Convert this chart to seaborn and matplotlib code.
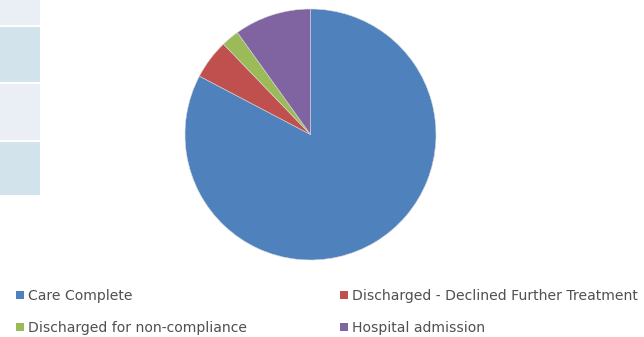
import matplotlib
matplotlib.use("Agg")
import matplotlib.pyplot as plt
import seaborn as sns
from matplotlib.patches import Rectangle, Patch

categories = ["Care Complete", "Discharged - Declined Further Treatment",
              "Discharged for non-compliance", "Hospital admission"]
values = [82.7, 5.1, 2.3, 9.9]
colors = ["#4F81BD", "#C0504D", "#9BBB59", "#8064A2"]

sns.set_theme(style="white")
plt.rcParams['font.family'] = ['DejaVu Sans']

W, H = 644, 337
fig = plt.figure(figsize=(W / 100, H / 100), dpi=100)
fig.patch.set_facecolor("white")

# partial table on the left edge
rows = [(0, 25, "#E9EFF5"), (27, 82, "#D2E3EB"), (84, 140, "#E9EFF5"), (142, 195, "#D2E3EB")]
for y0, y1, c in rows:
    fig.patches.append(Rectangle((0, 1 - y1 / H), 40 / W, (y1 - y0) / H,
                                 transform=fig.transFigure, facecolor=c,
                                 edgecolor="none", zorder=0))

cx, cy, r = 310.5, 134.5, 125.5
ax = fig.add_axes([(cx - r) / W, 1 - (cy + r) / H, 2 * r / W, 2 * r / H])
ax.pie(values, colors=colors, startangle=90, counterclock=False, radius=1,
       wedgeprops=dict(linewidth=0.4, edgecolor="#d8d8d8"))
ax.set_xlim(-1, 1)
ax.set_ylim(-1, 1)
ax.set_aspect("equal")
ax.axis("off")

handles = [Patch(facecolor=c, edgecolor="none") for c in colors]
common = dict(frameon=False, fontsize=10.1, handlelength=0.55, handleheight=0.55,
              handletextpad=0.3, labelspacing=1.3, labelcolor="#505050",
              loc="upper left", borderaxespad=0, borderpad=0)
fig.legend([handles[0], handles[2]], [categories[0], categories[2]],
           bbox_to_anchor=(16 / W, 1 - 289 / H), **common)
fig.legend([handles[1], handles[3]], [categories[1], categories[3]],
           bbox_to_anchor=(340 / W, 1 - 289 / H), **common)

fig.savefig("out.png", dpi=100, facecolor="white")
